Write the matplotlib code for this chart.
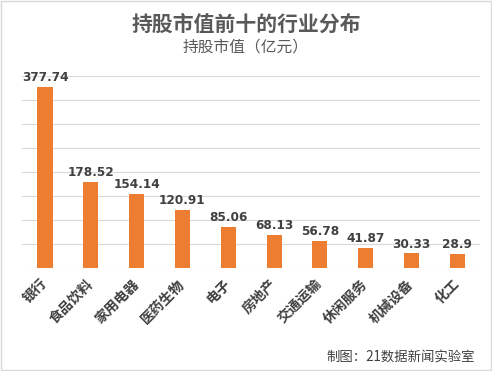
import matplotlib
matplotlib.use("Agg")
import matplotlib.pyplot as plt
from matplotlib.patches import Rectangle

plt.rcParams['font.family'] = ['Noto Sans CJK SC', 'DejaVu Sans']

# data
industries = ["银行", "食品饮料", "家用电器", "医药生物", "电子",
              "房地产", "交通运输", "休闲服务", "机械设备", "化工"]
values = [377.74, 178.52, 154.14, 120.91, 85.06, 68.13, 56.78, 41.87, 30.33, 28.9]
value_labels = ["377.74", "178.52", "154.14", "120.91", "85.06",
                "68.13", "56.78", "41.87", "30.33", "28.9"]

fig = plt.figure(figsize=(4.92, 3.71), dpi=100)
ax = fig.add_axes([0.045, 0.2776, 0.931, 0.5174])

x = range(len(industries))
ax.bar(x, values, width=0.33, color="#ED7D31", zorder=3)
for i, (v, lab) in enumerate(zip(values, value_labels)):
    ax.text(i, v + 6, lab, ha="center", va="bottom", fontsize=8.7,
            fontweight="bold", color="#404040", family=["DejaVu Sans"])

ax.set_ylim(0, 400)
ax.set_xlim(-0.5, len(industries) - 0.5)
ax.set_yticks(range(0, 401, 50))
ax.yaxis.grid(True, color="#D9D9D9", linewidth=0.8, zorder=0)
ax.tick_params(axis="y", left=False, labelleft=False)
ax.tick_params(axis="x", length=0, pad=10)
ax.set_xticks(list(x))
ax.set_xticklabels(industries, rotation=45, ha="right", va="center",
                   rotation_mode="anchor", fontsize=10, fontweight="bold",
                   color="#404040")
for s in ax.spines.values():
    s.set_visible(False)

fig.text(0.5, 0.935, "持股市值前十的行业分布", ha="center", va="center",
         fontsize=15, fontweight="bold", color="#595959")
fig.text(0.5, 0.872, "持股市值（亿元）", ha="center", va="center",
         fontsize=11.3, color="#595959")
fig.text(0.965, 0.04, "制图：21数据新闻实验室", ha="right", va="center",
         fontsize=9.6, color="#404040")

fig.patches.append(Rectangle((0.002, 0.003), 0.995, 0.994, transform=fig.transFigure,
                             fill=False, edgecolor="#D9D9D9", linewidth=1))

fig.savefig("out.png", dpi=100)
